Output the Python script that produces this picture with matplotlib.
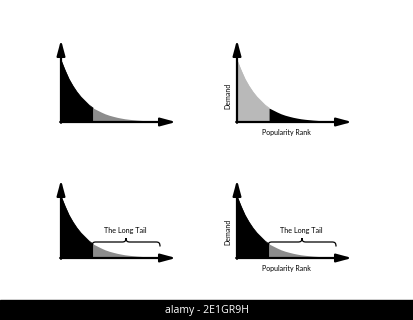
import numpy as np
import matplotlib.pyplot as plt
from matplotlib.path import Path
from matplotlib.patches import PathPatch

# popularity rank (pixels along the axis) and demand
rank = [0, 4, 8, 12, 16, 20, 24, 28, 32, 36, 40, 44, 48, 52, 56, 60,
        64, 68, 72, 76, 80, 84, 88, 92, 96, 100]
demand = [62, 52, 43, 36, 30, 25, 21, 17, 14, 12, 10, 8.2, 6.8, 5.7, 4.7, 3.9,
          3.2, 2.7, 2.3, 1.9, 1.6, 1.3, 1.1, 0.9, 0.7, 0.6]
split_rank = 32

# head colour, tail colour, axis labels?, long tail brace?
panels = [
    ("black", "#8c8c8c", False, False),
    ("#b9b9b9", "black", True, False),
    ("black", "#8c8c8c", False, True),
    ("black", "#8c8c8c", True, True),
]
# origin of each small chart in image pixels and axis height
origins = [(61, 122, 82), (237, 122, 82), (61, 258, 78), (237, 258, 78)]
x_len = 115

W, H = 413, 320
fig = plt.figure(figsize=(W / 100, H / 100), dpi=100)
fig.patch.set_facecolor("white")

r = np.array(rank, dtype=float)
d = np.array(demand, dtype=float)
head = r <= split_rank
tail = r >= split_rank

font = ["Lato", "DejaVu Sans"]


def brace_path(x0, x1, yb, h):
    xm = (x0 + x1) / 2
    verts = [(x0, yb - 3.5), (x0, yb), (x0 + 1, yb + 1), (x0 + 4, yb + 1),
             (xm - 4, yb + 1), (xm - 1, yb + 1), (xm, yb + 2), (xm, yb + h),
             (xm, yb + h), (xm, yb + 2), (xm + 1, yb + 1), (xm + 4, yb + 1),
             (x1 - 4, yb + 1), (x1 - 1, yb + 1), (x1, yb), (x1, yb - 3.5)]
    codes = [Path.MOVETO, Path.CURVE4, Path.CURVE4, Path.CURVE4,
             Path.LINETO, Path.CURVE4, Path.CURVE4, Path.CURVE4,
             Path.MOVETO, Path.CURVE4, Path.CURVE4, Path.CURVE4,
             Path.LINETO, Path.CURVE4, Path.CURVE4, Path.CURVE4]
    return Path(verts, codes)


for (c_head, c_tail, labels, brace), (ox, oy, y_len) in zip(panels, origins):
    ax = fig.add_axes([ox / W, (H - oy) / H, x_len / W, y_len / H])
    ax.set_xlim(0, x_len)
    ax.set_ylim(0, y_len)
    ax.axis("off")

    ax.fill_between(r[head], 0, d[head], color=c_head, lw=0, clip_on=False)
    ax.fill_between(r[tail], 0, d[tail], color=c_tail, lw=0, clip_on=False)
    ax.plot(r[head], d[head], color=c_head, lw=0.6, clip_on=False)

    arrow = dict(arrowstyle="-|>,head_length=1.3,head_width=0.35", lw=1.6,
                 color="black", shrinkA=0, shrinkB=0, mutation_scale=7)
    ax.annotate("", xy=(0, y_len), xytext=(0, -0.8), arrowprops=arrow,
                annotation_clip=False)
    ax.annotate("", xy=(x_len, 0), xytext=(-0.8, 0), arrowprops=arrow,
                annotation_clip=False)

    if labels:
        ax.text(-9, 26, "Demand", rotation=90, ha="center", va="center",
                fontsize=5.0, family=font)
        ax.text(49, -11, "Popularity Rank", ha="center", va="center",
                fontsize=5.0, family=font)

    if brace:
        ax.add_patch(PathPatch(brace_path(31, 99, 15, 5), fc="none",
                               ec="black", lw=0.9, clip_on=False))
        ax.text(64, 28, "The Long Tail", ha="center", va="center",
                fontsize=5.2, family=font)

# stock-photo strip along the bottom
fig.patches.append(plt.Rectangle((0, 0), 1, 20 / H, transform=fig.transFigure,
                                 color="black", zorder=0))
fig.text(0.5, 10 / H, "alamy - 2E1GR9H", color="white", ha="center",
         va="center", fontsize=7.6, family=["Open Sans", "DejaVu Sans"])

fig.savefig("out.png", dpi=100, facecolor="white")
